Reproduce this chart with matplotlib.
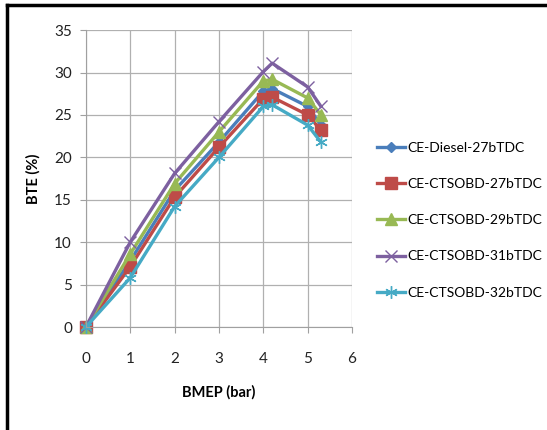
import matplotlib
matplotlib.use("Agg")
import matplotlib.pyplot as plt
from matplotlib.lines import Line2D

plt.rcParams['font.family'] = ['Lato', 'DejaVu Sans']

bmep = [0, 1, 2, 3, 4, 4.2, 5, 5.3]
diesel_27 = [0, 7.8, 16.1, 21.8, 27.8, 28.1, 26.0, 23.8]
ctsobd_27 = [0, 7.1, 15.3, 21.2, 26.9, 27.1, 25.0, 23.2]
ctsobd_29 = [0, 8.6, 16.9, 23.0, 29.0, 29.2, 27.0, 25.0]
ctsobd_31 = [0, 10.0, 18.1, 24.2, 30.1, 31.1, 28.3, 26.0]
ctsobd_32 = [0, 5.8, 14.2, 20.0, 26.0, 26.2, 23.8, 21.8]

labels = ['CE-Diesel-27bTDC', 'CE-CTSOBD-27bTDC', 'CE-CTSOBD-29bTDC',
          'CE-CTSOBD-31bTDC', 'CE-CTSOBD-32bTDC']
series = [diesel_27, ctsobd_27, ctsobd_29, ctsobd_31, ctsobd_32]
colors = ['#4A7EBB', '#BE4B48', '#98B954', '#7D60A0', '#46AAC5']
markers = ['D', 's', '^', 'x', (6, 2, 0)]
msizes = [5, 8, 8, 8, 9]

fig = plt.figure(figsize=(5.47, 4.30), dpi=100)
ax = fig.add_axes([0.157, 0.2395, 0.4865, 0.6905])

for y, lab, c, m, ms in zip(series, labels, colors, markers, msizes):
    ax.plot(bmep, y, color=c, lw=2.4, marker=m, ms=ms, mew=1.0, mec=c, label=lab,
            clip_on=False)

ax.set_xlim(0, 6)
ax.set_ylim(0, 35)
ax.set_xticks(range(0, 7))
ax.set_yticks(range(0, 36, 5))
ax.grid(True, color='#B0B0B0', lw=0.9)
ax.set_axisbelow(True)
for s in ['top', 'right']:
    ax.spines[s].set_visible(False)
for s in ['left', 'bottom']:
    ax.spines[s].set_color('#A0A0A0')
ax.tick_params(axis='both', colors='#A0A0A0', labelcolor='#222222', labelsize=11,
               length=4, direction='out')
ax.tick_params(axis='x', pad=14)
ax.tick_params(axis='y', pad=6)

ax.set_xlabel('BMEP (bar)', fontsize=10.5, fontweight='bold', labelpad=14)
ax.set_ylabel('BTE (%)', fontsize=10.5, fontweight='bold', labelpad=10)

handles = [Line2D([], [], color=c, lw=2.4, marker=m, ms=ms, mec=c)
           for c, m, ms in zip(colors, markers, msizes)]
fig.legend(handles, labels, loc='center left', bbox_to_anchor=(0.69, 0.488),
           frameon=False, fontsize=10, handlelength=2.0, handletextpad=0.15,
           labelspacing=1.75, borderaxespad=0, borderpad=0)

# figure border (left and top)
fig.add_artist(Line2D([0.012, 0.012], [0, 0.988], transform=fig.transFigure,
                      color='black', lw=2.5))
fig.add_artist(Line2D([0.012, 1.0], [0.988, 0.988], transform=fig.transFigure,
                      color='black', lw=2.5))

fig.savefig('out.png', dpi=100)
